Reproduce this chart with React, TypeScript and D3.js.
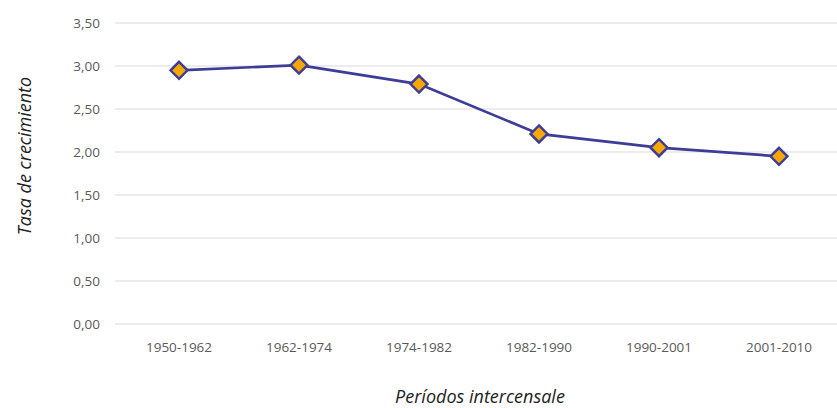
import React from "react";
import * as d3 from "d3";

const categories = ["1950-1962", "1962-1974", "1974-1982", "1982-1990", "1990-2001", "2001-2010"];
const values = [2.95, 3.01, 2.79, 2.21, 2.05, 1.95];
const yTicks = [0, 0.5, 1, 1.5, 2, 2.5, 3, 3.5];

const W = 837;
const H = 408;

export default function App() {
  const x = d3.scaleBand<string>().domain(categories).range([119, 839]);
  const y = d3.scaleLinear().domain([0, 3.5]).range([324, 23]);
  const fmt = (v: number) => v.toFixed(2).replace(".", ",");
  const line = d3
    .line<number>()
    .x((_, i) => (x(categories[i]) as number) + x.bandwidth() / 2)
    .y((d) => y(d));
  const font = "'Open Sans', 'Noto Sans', sans-serif";
  return (
    <svg width={W} height={H} style={{ position: "absolute", left: 0, top: 0, background: "#fff" }} fontFamily={font}>
      {yTicks.map((t) => (
        <g key={t}>
          <line x1={115} x2={837} y1={y(t)} y2={y(t)} stroke="#d9d9d9" strokeWidth={1.2} />
          <text x={100} y={y(t)} dy="0.35em" textAnchor="end" fontSize={13.5} fill="#5a5a5a">
            {fmt(t)}
          </text>
        </g>
      ))}
      {categories.map((c) => (
        <text key={c} x={(x(c) as number) + x.bandwidth() / 2} y={352} textAnchor="middle" fontSize={13.5} fill="#5a5a5a">
          {c}
        </text>
      ))}
      <path d={line(values) || ""} fill="none" stroke="#3d3d98" strokeWidth={2.7} />
      {values.map((v, i) => {
        const cx = (x(categories[i]) as number) + x.bandwidth() / 2;
        const cy = y(v);
        const s = 8.5;
        return (
          <path
            key={i}
            d={`M${cx},${cy - s}L${cx + s},${cy}L${cx},${cy + s}L${cx - s},${cy}Z`}
            fill="#f6a800"
            stroke="#3d3d98"
            strokeWidth={2.4}
          />
        );
      })}
      <text x={480} y={403} textAnchor="middle" fontSize={18} fontStyle="italic" fill="#222">
        Períodos intercensale
      </text>
      <text
        transform={`translate(31,156) rotate(-90)`}
        textAnchor="middle"
        fontSize={18}
        fontStyle="italic"
        fill="#222"
      >
        Tasa de crecimiento
      </text>
    </svg>
  );
}
